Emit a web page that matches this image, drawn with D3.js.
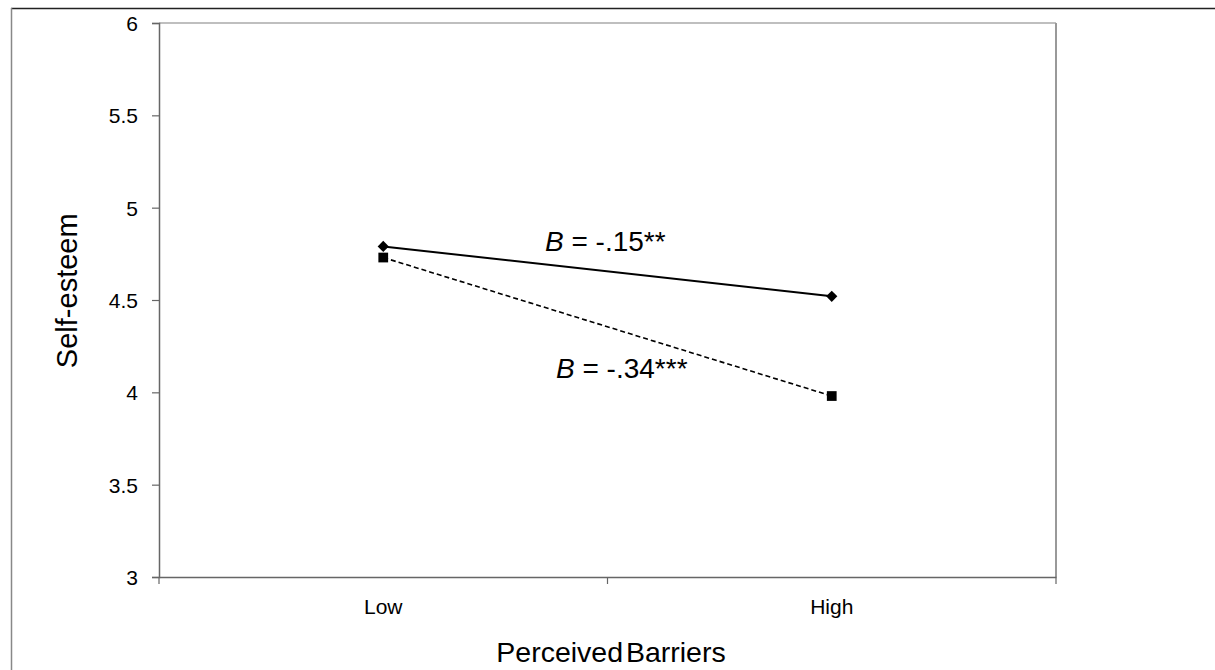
<!DOCTYPE html>
<html>
<head>
<meta charset="utf-8">
<script src="https://cdn.jsdelivr.net/npm/d3@7"></script>
<style>
  body { margin: 0; background: #fff; }
  text { font-family: "Liberation Sans", Arial, sans-serif; fill: #000; }
</style>
</head>
<body>
<div id="chart"></div>
<script>
// data
var categories = ["Low", "High"];
var solidValues = [4.79, 4.52];   // diamonds, B = -.15**
var dashedValues = [4.73, 3.98];  // squares, B = -.34***
var yTicks = [3, 3.5, 4, 4.5, 5, 5.5, 6];
var yTickLabels = ["3", "3.5", "4", "4.5", "5", "5.5", "6"];
var annotations = ["= -.15**", "= -.34***"];

var svgWidth = 1215;
var svgHeight = 670;

var margin = { top: 23, right: 159, bottom: 93, left: 159 };
var width = svgWidth - margin.left - margin.right;
var height = svgHeight - margin.top - margin.bottom;

var svg = d3.select("#chart")
  .append("svg")
  .attr("width", svgWidth)
  .attr("height", svgHeight);

// outer frame of the figure
svg.append("line")
  .attr("x1", 11).attr("x2", svgWidth)
  .attr("y1", 8.5).attr("y2", 8.5)
  .attr("stroke", "#222").attr("stroke-width", 1.5);
svg.append("line")
  .attr("x1", 11.5).attr("x2", 11.5)
  .attr("y1", 8).attr("y2", svgHeight)
  .attr("stroke", "#888").attr("stroke-width", 1.5);

var chartGroup = svg.append("g")
  .attr("transform", `translate(${margin.left}, ${margin.top})`);

var xScale = d3.scaleBand()
  .domain(categories)
  .range([0, width])
  .padding(0);

var yScale = d3.scaleLinear()
  .domain([3, 6])
  .range([height, 0]);

// plot area border (top and right, lighter)
chartGroup.append("line")
  .attr("x1", 0).attr("x2", width)
  .attr("y1", 0).attr("y2", 0)
  .attr("stroke", "#aaa").attr("stroke-width", 1.5);
chartGroup.append("line")
  .attr("x1", width).attr("x2", width)
  .attr("y1", 0).attr("y2", height)
  .attr("stroke", "#999").attr("stroke-width", 2);

// y axis
var leftAxis = d3.axisLeft(yScale)
  .tickValues(yTicks)
  .tickSize(7)
  .tickPadding(14)
  .tickFormat((d, i) => yTickLabels[i]);

var yAxisG = chartGroup.append("g").call(leftAxis);
yAxisG.select(".domain").attr("stroke", "#666").attr("stroke-width", 1.5);
yAxisG.selectAll(".tick line").attr("stroke", "#666").attr("stroke-width", 1.2);
yAxisG.selectAll(".tick text")
  .style("font-family", "Liberation Sans, Arial, sans-serif")
  .style("font-size", "21px")
  .attr("fill", "#000")
  .attr("dy", "0.36em");

// x axis: labels at band centres, ticks at band edges
var bottomAxis = d3.axisBottom(xScale)
  .tickSize(0)
  .tickPadding(22);

var xAxisG = chartGroup.append("g")
  .attr("transform", `translate(0, ${height})`)
  .call(bottomAxis);
xAxisG.select(".domain").attr("stroke", "#666").attr("stroke-width", 1.5);
xAxisG.selectAll(".tick text")
  .style("font-family", "Liberation Sans, Arial, sans-serif")
  .style("font-size", "21px")
  .attr("fill", "#000");

var edges = categories.map(c => xScale(c)).concat([xScale.range()[1]]);
xAxisG.selectAll(".edge")
  .data(edges)
  .enter()
  .append("line")
  .attr("class", "edge")
  .attr("x1", d => d).attr("x2", d => d)
  .attr("y1", 0).attr("y2", 7)
  .attr("stroke", "#666").attr("stroke-width", 1.2);

var cx = d => xScale(d) + xScale.bandwidth() / 2;

var line = d3.line()
  .x((d, i) => cx(categories[i]))
  .y(d => yScale(d));

// solid line with diamonds
chartGroup.append("path")
  .datum(solidValues)
  .attr("d", line)
  .attr("fill", "none")
  .attr("stroke", "#000")
  .attr("stroke-width", 2);

// dashed line with squares
chartGroup.append("path")
  .datum(dashedValues)
  .attr("d", line)
  .attr("fill", "none")
  .attr("stroke", "#000")
  .attr("stroke-width", 1.6)
  .attr("stroke-dasharray", "5,3");

chartGroup.selectAll(".diamond")
  .data(solidValues)
  .enter()
  .append("path")
  .attr("class", "diamond")
  .attr("d", d3.symbol().type(d3.symbolDiamond2).size(80))
  .attr("transform", (d, i) => `translate(${cx(categories[i])}, ${yScale(d)})`)
  .attr("fill", "#000");

chartGroup.selectAll(".square")
  .data(dashedValues)
  .enter()
  .append("path")
  .attr("class", "square")
  .attr("d", d3.symbol().type(d3.symbolSquare).size(95))
  .attr("transform", (d, i) => `translate(${cx(categories[i])}, ${yScale(d)})`)
  .attr("fill", "#000");

// slope annotations
var annoPos = [
  { x: 545 - margin.left, y: 251 - margin.top },
  { x: 556 - margin.left, y: 378 - margin.top }
];
annotations.forEach(function(t, i) {
  var txt = chartGroup.append("text")
    .attr("x", annoPos[i].x)
    .attr("y", annoPos[i].y)
    .style("font-size", "28px");
  txt.append("tspan").attr("font-style", "italic").text("B");
  txt.append("tspan").text(" " + t);
});

// axis titles
svg.append("text")
  .attr("text-anchor", "middle")
  .attr("transform", `translate(77, ${margin.top + yScale(4.55)}) rotate(-90)`)
  .style("font-size", "29px")
  .text("Self-esteem");

svg.append("text")
  .attr("text-anchor", "middle")
  .attr("x", 611)
  .attr("y", 662)
  .style("font-size", "28.5px")
  .style("word-spacing", "-5px")
  .text("Perceived Barriers");
</script>
</body>
</html>
